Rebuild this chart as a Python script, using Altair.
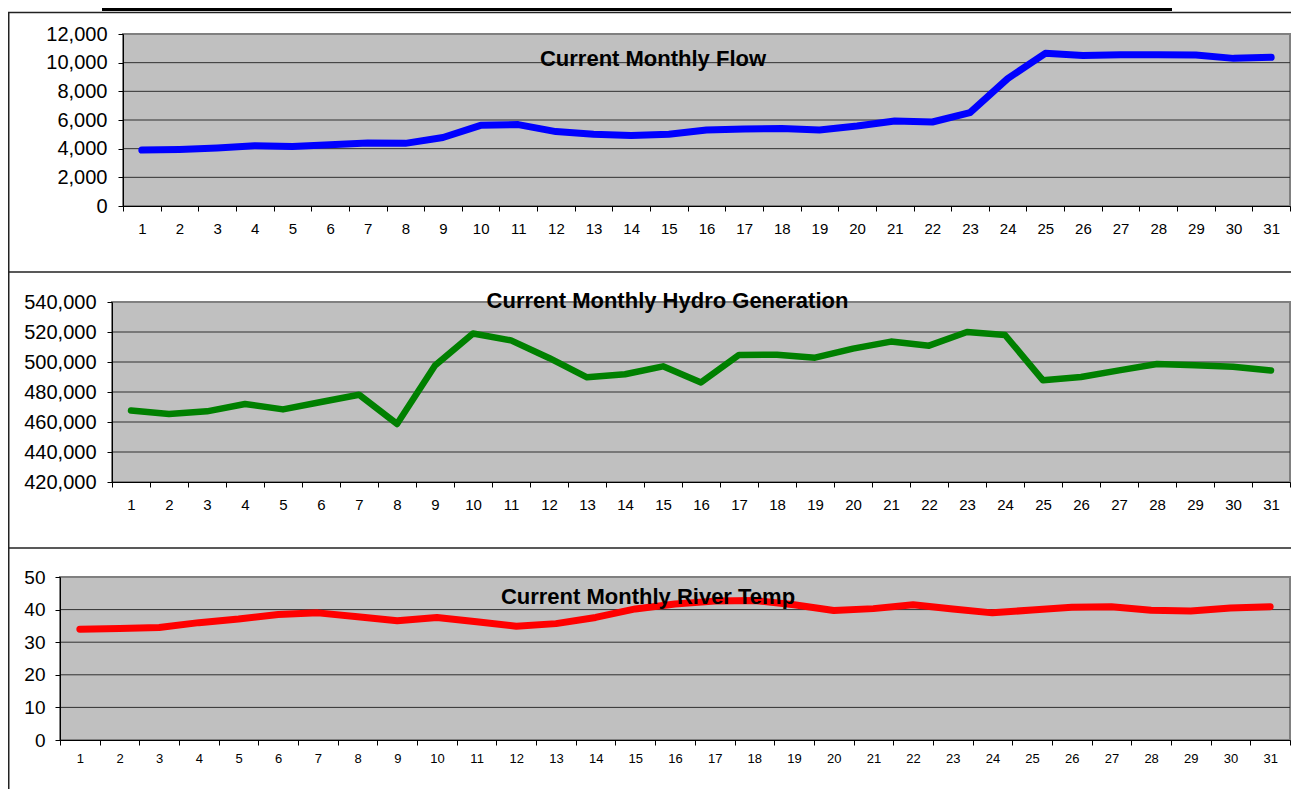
import altair as alt
import pandas as pd

days = list(range(1, 32))
flow = [3900, 3950, 4050, 4200, 4150, 4280, 4400, 4370, 4780, 5630, 5680, 5190, 5000, 4920,
        5000, 5300, 5380, 5400, 5300, 5580, 5930, 5860, 6510, 8890, 10650, 10500, 10550,
        10550, 10530, 10300, 10370]
hydro = [467600, 465300, 467100, 472000, 468400, 473300, 478200, 458700, 497600, 519000,
         514400, 502700, 489800, 491800, 497100, 486400, 504700, 504900, 502900, 508900,
         513600, 510900, 520000, 518000, 487800, 490000, 494400, 498700, 497800, 496900,
         494400]
temp = [34.0, 34.2, 34.5, 36.0, 37.1, 38.5, 39.0, 37.8, 36.6, 37.6, 36.3, 34.9, 35.7, 37.6,
        40.2, 41.7, 42.6, 42.8, 41.5, 39.7, 40.3, 41.5, 40.2, 39.0, 39.9, 40.7, 40.9, 39.8,
        39.6, 40.5, 40.9]

titles = ["Current Monthly Flow", "Current Monthly Hydro Generation", "Current Monthly River Temp"]
colors = ["#0000FF", "#008000", "#FF0000"]
ticks_flow = [0, 2000, 4000, 6000, 8000, 10000, 12000]
ticks_hydro = [420000, 440000, 460000, 480000, 500000, 520000, 540000]
ticks_temp = [0, 10, 20, 30, 40, 50]

FONT = "Liberation Sans"
FRAME = "#222222"
W, H = 1283, 781   # whole chart; page origin is at (8, 8)


def px(v):
    return v - 8


one = alt.Data(values=[{"k": 0}])

specs = [
    dict(vals=flow, color=colors[0], ticks=ticks_flow, title=titles[0],
         L=123, R=1290, T=34, B=206, tx=653, ty=66, ylab=20, xlab=15, xpad=10, ypad=11, lw=7),
    dict(vals=hydro, color=colors[1], ticks=ticks_hydro, title=titles[1],
         L=112, R=1290, T=302, B=482, tx=667.5, ty=308, ylab=20, xlab=15, xpad=10, ypad=11, lw=6.5),
    dict(vals=temp, color=colors[2], ticks=ticks_temp, title=titles[2],
         L=60, R=1290, T=577, B=740, tx=648, ty=604, ylab=19, xlab=13, xpad=7, ypad=10, lw=7),
]

layers = []
for s in specs:
    L, R, T, B = px(s["L"]), px(s["R"]), px(s["T"]), px(s["B"])
    ticks = s["ticks"]
    dom = [ticks[0], ticks[-1]]
    yscale = alt.Scale(domain=dom, range=[B, T], nice=False, zero=False)
    xscale = alt.Scale(type="band", domain=days, range=[L, R], paddingInner=0, paddingOuter=0)

    bg = alt.Chart(one).mark_rect(fill="#C0C0C0", stroke="#808080", strokeWidth=2).encode(
        x=alt.value(L), x2=alt.value(R), y=alt.value(T), y2=alt.value(B))
    grid = alt.Chart(pd.DataFrame({"g": ticks[1:-1]})).mark_rule(
        color="#303030", strokeWidth=1).encode(
        y=alt.Y("g:Q", scale=yscale, axis=None), x=alt.value(L), x2=alt.value(R))
    xaxis = alt.Axis(orient="bottom", offset=B - H, title=None, labelAngle=0,
                     tickBand="extent", grid=False, labelFont=FONT, labelFontSize=s["xlab"],
                     labelColor="black", labelPadding=s["xpad"], tickSize=5,
                     tickColor="black", domainColor="black", domainWidth=1, zindex=1)
    yaxis = alt.Axis(orient="left", offset=-L, title=None, values=ticks, format=",.0f",
                     grid=False, labelFont=FONT, labelFontSize=s["ylab"], labelColor="black",
                     labelPadding=s["ypad"], tickSize=5, tickColor="black",
                     domainColor="black", domainWidth=1, zindex=1)
    df = pd.DataFrame({"day": days, "v": s["vals"]})
    line = alt.Chart(df).mark_line(color=s["color"], strokeWidth=s["lw"], strokeCap="round",
                                   strokeJoin="round").encode(
        x=alt.X("day:O", scale=xscale, axis=xaxis),
        y=alt.Y("v:Q", scale=yscale, axis=yaxis))
    txt = alt.Chart(alt.Data(values=[{"t": s["title"]}])).mark_text(
        font=FONT, fontSize=22, fontWeight="bold", color="black", align="center",
        baseline="alphabetic").encode(x=alt.value(px(s["tx"])), y=alt.value(px(s["ty"])),
                                      text="t:N")
    layers += [bg, grid, line, txt]

# frame lines around the three chart boxes
frame = [
    alt.Chart(one).mark_rule(color="black", strokeWidth=3).encode(
        x=alt.value(px(102)), x2=alt.value(px(1172)), y=alt.value(1.5)),
    alt.Chart(one).mark_rule(color=FRAME, strokeWidth=1.5).encode(
        x=alt.value(0), x2=alt.value(W), y=alt.value(4.5)),
    alt.Chart(one).mark_rule(color=FRAME, strokeWidth=1.5).encode(
        x=alt.value(0), x2=alt.value(W), y=alt.value(px(272))),
    alt.Chart(one).mark_rule(color=FRAME, strokeWidth=1.5).encode(
        x=alt.value(0), x2=alt.value(W), y=alt.value(px(548))),
    alt.Chart(one).mark_rule(color=FRAME, strokeWidth=1.5).encode(
        x=alt.value(0.75), y=alt.value(4.5), y2=alt.value(H)),
]

chart = alt.layer(*layers, *frame).resolve_scale(
    x="independent", y="independent"
).resolve_axis(
    x="independent", y="independent"
).properties(
    width=W, height=H, padding=0, background="white",
    autosize=alt.AutoSizeParams(type="none")
).configure(font=FONT).configure_view(stroke=None)

chart.save("out.html", embed_options={"renderer": "svg", "actions": False})
